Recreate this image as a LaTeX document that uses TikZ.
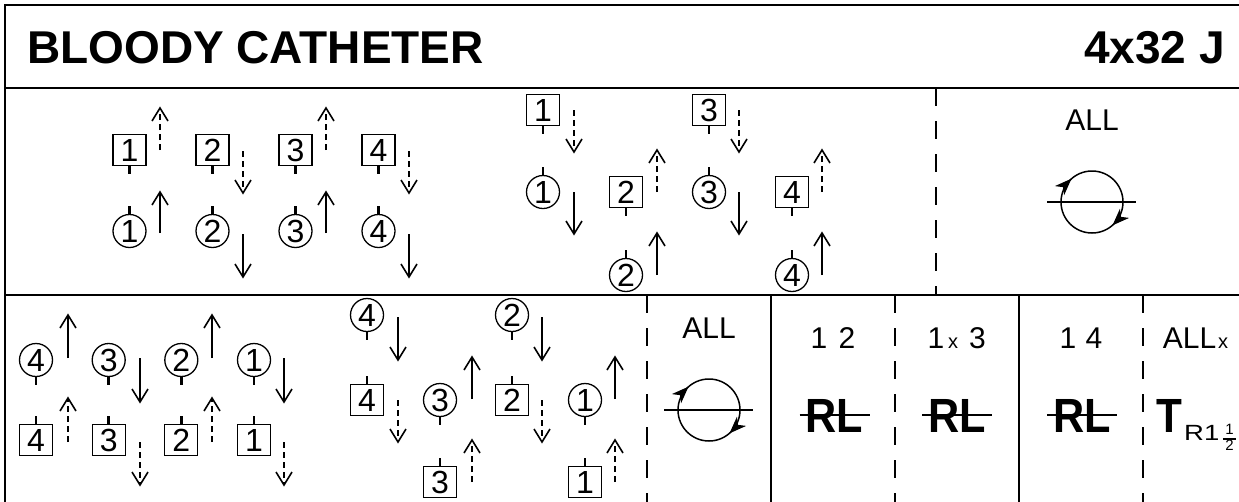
\documentclass[tikz,border=0pt]{standalone}
\usepackage{fontspec}
\usepackage{graphicx}
\setmainfont{Liberation Sans}
\usetikzlibrary{arrows.meta,calc}
\newcommand\dancer[6]{\node[#1] (#2) at (#3) {#4};\draw[tk] (#2.#5) -- ++(0,#6);}
% straight arrow: style of shaft, x, tail y, tip y
\newcommand\varrow[4]{%
  \draw[#1] (#2,#3) -- (#2,#4);
  \draw[headv] ($(#2,#4)!13pt!(#2,#3)+(-8,0)$) -- (#2,#4) -- ($(#2,#4)!13pt!(#2,#3)+(8,0)$);}
% rotation arrowhead on a circle node: node, angle of tip
\newcommand\rothead[2]{%
  \begin{scope}[shift={(#1.center)}, x=1pt, y=1pt, rotate=#2]
    \fill (31,-2) -- (24.5,15) -- (31,10) -- (37.5,15) -- cycle;
  \end{scope}}
\tikzset{
  frameline/.style={line width=2pt},
  dsep/.style={line width=2pt, dash pattern=on 18pt off 15pt},
  sq/.style={draw, line width=1.3pt, minimum width=33pt, minimum height=31pt, inner sep=0pt, font=\fontsize{32}{32}\selectfont},
  cr/.style={draw, circle, line width=1.3pt, minimum size=33pt, inner sep=0pt, font=\fontsize{32}{32}\selectfont},
  tk/.style={line width=2.6pt},
  sshaft/.style={line width=1.6pt},
  dshaft/.style={line width=1.6pt, dash pattern=on 6pt off 4pt},
  headv/.style={line width=1.6pt, line join=miter},
  lbl/.style={inner sep=0pt, anchor=base, font=\fontsize{30}{30}\selectfont},
  sml/.style={inner sep=0pt, anchor=base, font=\fontsize{20}{20}\selectfont},
  big/.style={inner sep=0pt, font=\fontsize{48}{48}\selectfont\bfseries},
  strike/.style={line width=2pt},
  rotc/.style={draw, circle, line width=1.5pt, minimum size=62pt, inner sep=0pt},
  rotline/.style={line width=1.5pt},
}
\begin{document}
\begin{tikzpicture}[x=1pt,y=-1pt]
\useasboundingbox (0,0) rectangle (1239,501);
\clip (0,0) rectangle (1239,501);
\fill[white] (0,0) rectangle (1239,501);
% frame
\draw[frameline] (1250,5) -- (5,5) -- (5,510);
\draw[frameline] (5,88) -- (1250,88);
\draw[frameline] (5,295) -- (1250,295);
\draw[dsep] (936,88) -- (936,295);
\draw[dsep] (647,295) -- (647,510);
\draw[frameline] (771,295) -- (771,510);
\draw[dsep] (895,295) -- (895,510);
\draw[frameline] (1019,295) -- (1019,510);
\draw[dsep] (1143,295) -- (1143,510);
% title
\node[anchor=base west, inner sep=0pt, font=\fontsize{46}{46}\selectfont\bfseries] (title) at (27,63) {BLOODY CATHETER};
\node[anchor=base east, inner sep=0pt, font=\fontsize{46}{46}\selectfont\bfseries] (form) at (1225,63) {4x32 J};
% top-left panel
\dancer{sq}{a1}{129.5,150}{1}{south}{8}
\dancer{sq}{a2}{212.5,150}{2}{south}{8}
\dancer{sq}{a3}{295.5,150}{3}{south}{8}
\dancer{sq}{a4}{378.5,150}{4}{south}{8}
\dancer{cr}{b1}{129.5,231}{1}{north}{-8}
\dancer{cr}{b2}{212.5,231}{2}{north}{-8}
\dancer{cr}{b3}{295.5,231}{3}{north}{-8}
\dancer{cr}{b4}{378.5,231}{4}{north}{-8}
\varrow{dshaft}{160}{150}{108}
\varrow{dshaft}{243}{151}{193}
\varrow{dshaft}{326}{150}{108}
\varrow{dshaft}{409}{151}{193}
\varrow{sshaft}{160}{233}{192}
\varrow{sshaft}{243}{234}{277}
\varrow{sshaft}{326}{233}{192}
\varrow{sshaft}{409}{234}{277}
% top-middle panel
\dancer{sq}{c1}{543,110}{1}{south}{8}
\dancer{sq}{c3}{709,110}{3}{south}{8}
\dancer{cr}{d1}{543,192}{1}{north}{-8}
\dancer{sq}{c2}{626,192}{2}{south}{8}
\dancer{cr}{d3}{709,192}{3}{north}{-8}
\dancer{sq}{c4}{792,192}{4}{south}{8}
\dancer{cr}{d2}{626,275}{2}{north}{-8}
\dancer{cr}{d4}{792,275}{4}{north}{-8}
\varrow{dshaft}{574}{110}{152}
\varrow{dshaft}{739}{110}{152}
\varrow{sshaft}{574}{192}{234}
\varrow{dshaft}{657}{192}{150}
\varrow{sshaft}{739}{192}{234}
\varrow{dshaft}{822}{192}{150}
\varrow{sshaft}{657}{275}{233}
\varrow{sshaft}{822}{275}{233}
% top-right panel
\node[lbl] (allT) at (1092,130) {ALL};
\node[rotc] (rotT) at (1092,202) {};
\draw[rotline] ([xshift=-13pt]rotT.west) -- ([xshift=12pt]rotT.east);
\rothead{rotT}{135}
\rothead{rotT}{-45}
% bottom-left panel
\dancer{cr}{e4}{36,360}{4}{south}{8}
\dancer{cr}{e3}{108.7,360}{3}{south}{8}
\dancer{cr}{e2}{181.3,360}{2}{south}{8}
\dancer{cr}{e1}{254,360}{1}{south}{8}
\dancer{sq}{f4}{36,440}{4}{north}{-8}
\dancer{sq}{f3}{108.7,440}{3}{north}{-8}
\dancer{sq}{f2}{181.3,440}{2}{north}{-8}
\dancer{sq}{f1}{254,440}{1}{north}{-8}
\varrow{sshaft}{68}{358}{315}
\varrow{sshaft}{140}{358}{402}
\varrow{sshaft}{212}{358}{315}
\varrow{sshaft}{284}{358}{402}
\varrow{dshaft}{68}{442}{398}
\varrow{dshaft}{140}{442}{485}
\varrow{dshaft}{212}{442}{398}
\varrow{dshaft}{284}{442}{485}
% bottom-middle panel
\dancer{cr}{g4}{367,315}{4}{south}{8}
\dancer{cr}{g2}{512,315}{2}{south}{8}
\dancer{sq}{h4}{367,400}{4}{north}{-8}
\dancer{cr}{g3}{440,400}{3}{south}{8}
\dancer{sq}{h2}{512,400}{2}{north}{-8}
\dancer{cr}{g1}{585,400}{1}{south}{8}
\dancer{sq}{h3}{440,482}{3}{north}{-8}
\dancer{sq}{h1}{585,482}{1}{north}{-8}
\varrow{sshaft}{398}{317}{360}
\varrow{sshaft}{542}{317}{360}
\varrow{dshaft}{398}{400}{442}
\varrow{sshaft}{472}{399}{357}
\varrow{dshaft}{542}{400}{442}
\varrow{sshaft}{615}{399}{357}
\varrow{dshaft}{472}{482}{440}
\varrow{dshaft}{615}{482}{440}
% bottom columns
\node[lbl] (allB) at (709,338) {ALL};
\node[rotc] (rotB) at (709,410) {};
\draw[rotline] ([xshift=-13pt]rotB.west) -- ([xshift=12pt]rotB.east);
\rothead{rotB}{135}
\rothead{rotB}{-45}
% 1 2
\node[lbl] (n12a) at (819,348) {1};
\node[lbl] (n12b) at (847,348) {2};
\node[big, anchor=base] (rl1) at (834.5,432) {\scalebox{0.9}[1]{RL}};
\draw[strike] ([xshift=-6pt]rl1.west) -- ([xshift=6pt]rl1.east);
% 1x 3
\node[lbl] (n13a) at (936,348) {1};
\node[sml] (n13x) at (953,348) {x};
\node[lbl] (n13b) at (977.5,348) {3};
\node[big, anchor=base] (rl2) at (957,432) {\scalebox{0.9}[1]{RL}};
\draw[strike] ([xshift=-6pt]rl2.west) -- ([xshift=6pt]rl2.east);
% 1 4
\node[lbl] (n14a) at (1068,348) {1};
\node[lbl] (n14b) at (1094,348) {4};
\node[big, anchor=base] (rl3) at (1082,432) {\scalebox{0.9}[1]{RL}};
\draw[strike] ([xshift=-6pt]rl3.west) -- ([xshift=6pt]rl3.east);
% ALLx
\node[lbl] (allx) at (1189.5,348) {ALL};
\node[sml] (allxx) at (1223,348) {x};
\node[big, anchor=base west] (tT) at (1156,432) {\scalebox{0.88}[1]{T}};
\node[inner sep=0pt, anchor=base west, font=\fontsize{22}{22}\selectfont] (tR) at (1184,440) {\scalebox{1.25}[1]{R1}};
\node[inner sep=0pt, font=\fontsize{15}{15}\selectfont] (frac) at (1229.5,439) {\setlength\arrayrulewidth{1.3pt}\renewcommand\arraystretch{0.9}\begin{tabular}{@{\,}c@{\,}}1\\\hline 2\end{tabular}};
\end{tikzpicture}
\end{document}
